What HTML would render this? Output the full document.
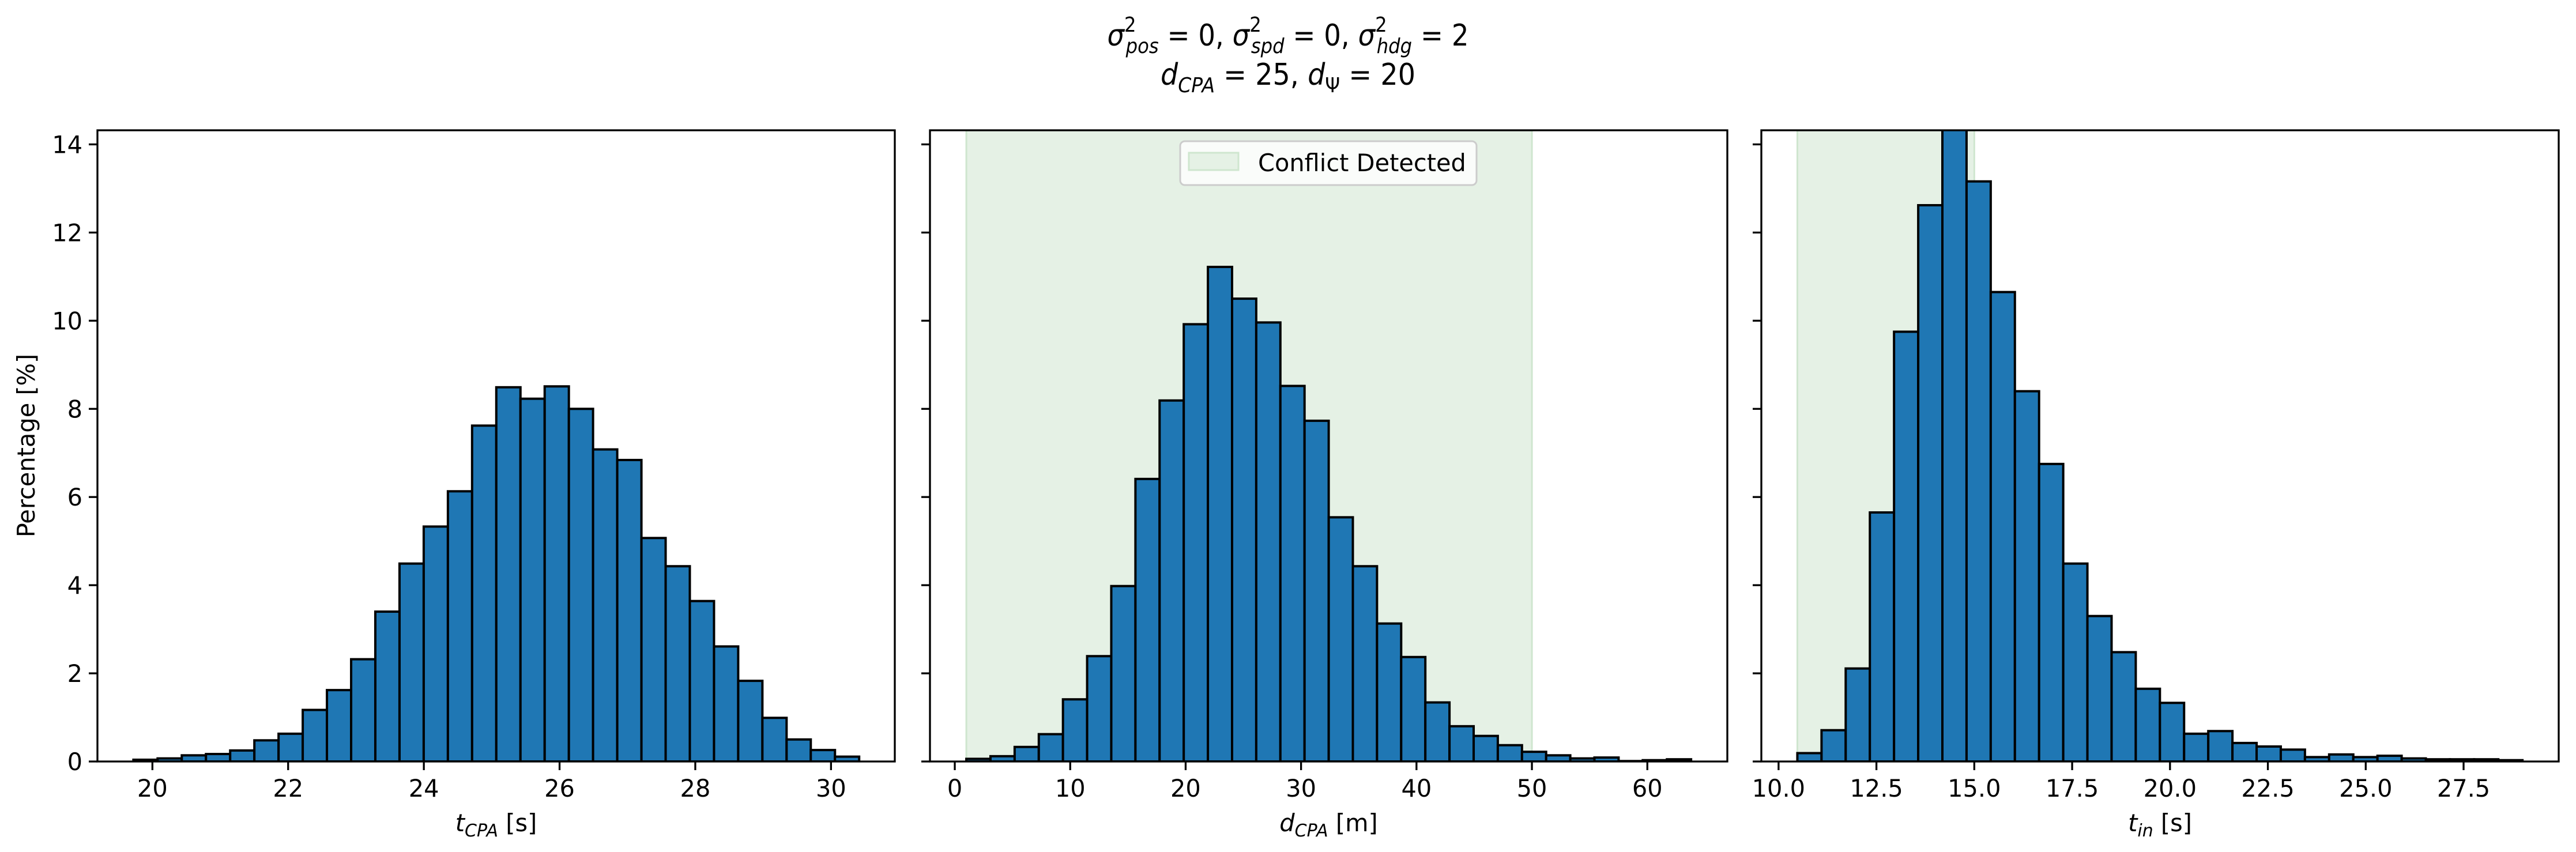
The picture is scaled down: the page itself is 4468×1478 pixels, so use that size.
<!DOCTYPE html>
<html><head><meta charset="utf-8"><style>
html,body{margin:0;padding:0;background:#fff;}
svg{display:block;font-family:"DejaVu Sans","Liberation Sans",sans-serif;}
</style></head><body>
<svg id="fig" width="4468" height="1478" viewBox="0 0 4468 1478" xmlns="http://www.w3.org/2000/svg">
<rect width="4468" height="1478" fill="#fff"/>
<g font-size="52" text-anchor="middle" fill="#000">
<text x="2234" y="79" textLength="627" lengthAdjust="spacingAndGlyphs"><tspan font-style="italic">σ</tspan><tspan font-size="36" dy="-24">2</tspan><tspan font-size="36" font-style="italic" dx="-20" dy="37">pos</tspan><tspan dy="-13"> = 0, </tspan><tspan font-style="italic">σ</tspan><tspan font-size="36" dy="-24">2</tspan><tspan font-size="36" font-style="italic" dx="-20" dy="37">spd</tspan><tspan dy="-13"> = 0, </tspan><tspan font-style="italic">σ</tspan><tspan font-size="36" dy="-24">2</tspan><tspan font-size="36" font-style="italic" dx="-20" dy="37">hdg</tspan><tspan dy="-13"> = 2</tspan></text>
<text x="2234" y="147" textLength="442" lengthAdjust="spacingAndGlyphs"><tspan font-style="italic">d</tspan><tspan font-size="36" font-style="italic" dy="13">CPA</tspan><tspan dy="-13"> = 25, </tspan><tspan font-style="italic">d</tspan><tspan font-size="36" dy="13">Ψ</tspan><tspan dy="-13"> = 20</tspan></text>
</g>
<g id="plots"></g>
</svg>
<script>
// ---- data ----
const yTicks = [0,2,4,6,8,10,12,14];
const yMax = 14.32;

const tcpaBinStart = 19.72, tcpaBinWidth = 0.3565;
const tcpaValues = [0.04,0.07,0.14,0.17,0.25,0.48,0.63,1.17,1.62,2.32,3.40,4.49,5.33,6.13,7.62,8.49,8.23,8.51,8.00,7.08,6.84,5.07,4.43,3.64,2.61,1.83,0.99,0.50,0.26,0.11];
const tcpaTicks = [20,22,24,26,28,30];
const tcpaTickLabels = ["20","22","24","26","28","30"];

const dcpaBinStart = 1.0, dcpaBinWidth = 2.093;
const dcpaValues = [0.06,0.12,0.33,0.62,1.41,2.39,3.98,6.41,8.19,9.92,11.22,10.50,9.96,8.52,7.73,5.54,4.43,3.13,2.37,1.34,0.80,0.58,0.37,0.22,0.14,0.07,0.09,0.01,0.03,0.05];
const dcpaTicks = [0,10,20,30,40,50,60];
const dcpaTickLabels = ["0","10","20","30","40","50","60"];
const dcpaSpan = [1.0,50.0];

const tinBinStart = 10.48, tinBinWidth = 0.6175;
const tinValues = [0.19,0.71,2.11,5.65,9.75,12.62,14.45,13.16,10.65,8.40,6.75,4.49,3.30,2.48,1.65,1.33,0.63,0.69,0.42,0.34,0.27,0.10,0.16,0.10,0.13,0.07,0.05,0.05,0.05,0.03];
const tinTicks = [10,12.5,15,17.5,20,22.5,25,27.5];
const tinTickLabels = ["10.0","12.5","15.0","17.5","20.0","22.5","25.0","27.5"];
const tinSpan = [10.48,15.0];

// ---- drawing ----
const NS = "http://www.w3.org/2000/svg";
const root = document.getElementById('plots');
const top0 = 226, bot0 = 1321;
function mk(tag, attrs, parent){const e=document.createElementNS(NS,tag);for(const k in attrs)e.setAttribute(k,attrs[k]);parent.appendChild(e);return e;}
function yScale(v){return bot0 - (v/yMax)*(bot0-top0);}

function panel(cfg){
  const g = mk('g',{},root);
  
  
  const xs = v => cfg.x0 + (v-cfg.xmin)/(cfg.xmax-cfg.xmin)*(cfg.x1-cfg.x0);
  const cp = 'clip-'+cfg.name;
  const defs = mk('defs',{},g);
  const c = mk('clipPath',{id:cp},defs);
  mk('rect',{x:cfg.x0,y:top0,width:cfg.x1-cfg.x0,height:bot0-top0},c);
  const plot = mk('g',{'clip-path':'url(#'+cp+')'},g);
  if(cfg.span){
    const s = mk('rect',{x:xs(cfg.span[0]),y:top0,width:xs(cfg.span[1])-xs(cfg.span[0]),height:bot0-top0,fill:'#e5f1e5',stroke:'#cfe6cf','stroke-width':3},plot);
    
    
  }
  cfg.values.forEach((v,i)=>{
    const a = cfg.binStart + i*cfg.binWidth, b = a + cfg.binWidth;
    const r = mk('rect',{x:xs(a),y:yScale(v),width:xs(b)-xs(a),height:bot0-yScale(v),fill:'#1f77b4',stroke:'#000','stroke-width':4},plot);
    
    
  });
  cfg.ticks.forEach((t,i)=>{
    const x = xs(t);
    mk('line',{x1:x,x2:x,y1:bot0,y2:bot0+15,stroke:'#000','stroke-width':3.3},g);
    const tl = mk('text',{x:x,y:1382,'font-size':41.5,'text-anchor':'middle'},g);
    tl.textContent = cfg.tickLabels[i];
    
    
  });
  yTicks.forEach(t=>{
    const y = yScale(t);
    mk('line',{x1:cfg.x0-15,x2:cfg.x0,y1:y,y2:y,stroke:'#000','stroke-width':3.3},g);
    if(cfg.yLabels){
      const tl = mk('text',{x:cfg.x0-26,y:y+15,'font-size':41.5,'text-anchor':'end'},g);
      tl.textContent = String(t);
      
      
    }
  });
  const frame = mk('rect',{x:cfg.x0,y:top0,width:cfg.x1-cfg.x0,height:bot0-top0,fill:'none',stroke:'#000','stroke-width':3.3},g);
  
  
  const xl = mk('text',{x:(cfg.x0+cfg.x1)/2,y:1442,'font-size':41.5,'text-anchor':'middle'},g);
  
  
  const t1 = mk('tspan',{'font-style':'italic'},xl); t1.textContent = cfg.lab[0];
  const t2 = mk('tspan',{'font-style':'italic','font-size':30,dy:9},xl); t2.textContent = cfg.lab[1];
  const t3 = mk('tspan',{dy:-9},xl); t3.textContent = ' '+cfg.lab[2];
  return {g, xs};
}

panel({name:'tcpa-histogram',x0:169,x1:1552,xmin:19.19,xmax:30.94,binStart:tcpaBinStart,binWidth:tcpaBinWidth,values:tcpaValues,ticks:tcpaTicks,tickLabels:tcpaTickLabels,yLabels:true,lab:['t','CPA','[s]']});
panel({name:'dcpa-histogram',x0:1613,x1:2996,xmin:-2.15,xmax:66.93,binStart:dcpaBinStart,binWidth:dcpaBinWidth,values:dcpaValues,ticks:dcpaTicks,tickLabels:dcpaTickLabels,span:dcpaSpan,lab:['d','CPA','[m]']});
panel({name:'tin-histogram',x0:3055,x1:4438,xmin:9.56,xmax:29.93,binStart:tinBinStart,binWidth:tinBinWidth,values:tinValues,ticks:tinTicks,tickLabels:tinTickLabels,span:tinSpan,lab:['t','in','[s]']});

const yl = mk('text',{x:0,y:0,'font-size':41.5,'text-anchor':'middle',transform:'translate(60,773) rotate(-90)'},root);
yl.textContent = 'Percentage [%]';



const lg = mk('g',{},root);


mk('rect',{x:2047,y:245,width:514,height:76,rx:8,fill:'#fff','fill-opacity':0.8,stroke:'#ccc','stroke-width':3},lg);
const lp = mk('rect',{x:2062,y:265,width:86,height:30,fill:'#e5f1e5',stroke:'#cfe6cf','stroke-width':3},lg);


const lt = mk('text',{x:2182,y:297,'font-size':41.5},lg);
lt.textContent = 'Conflict Detected';


</script>
</body></html>
